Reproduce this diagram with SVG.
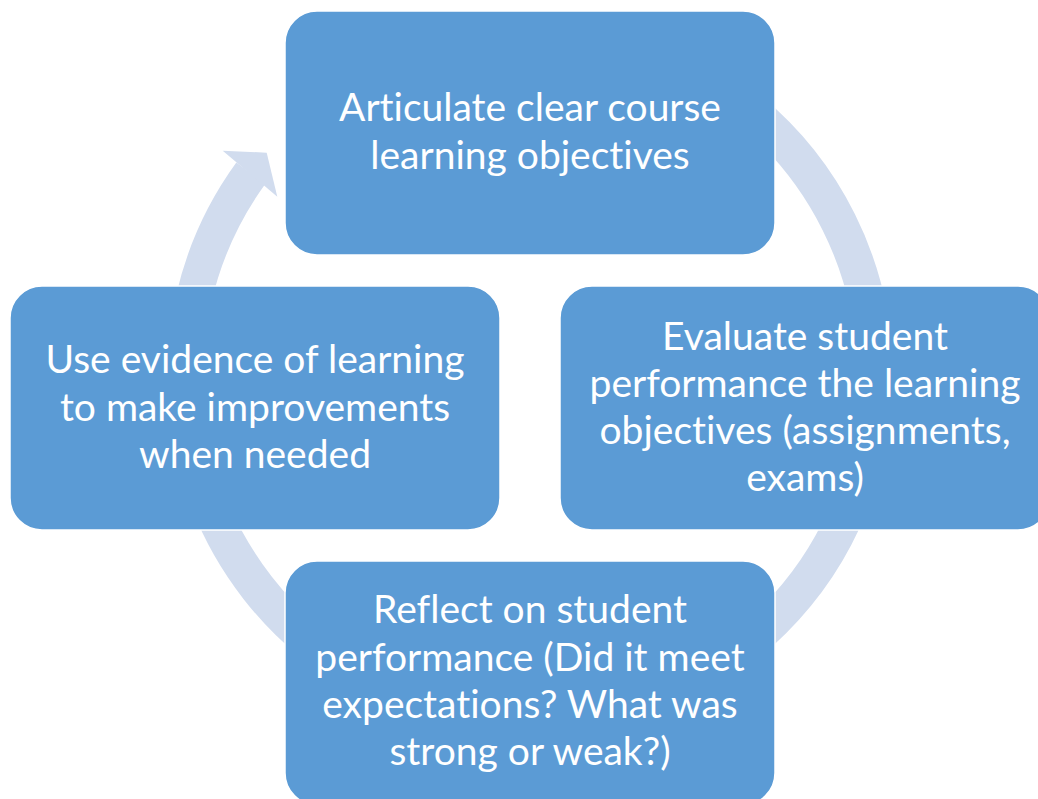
<svg xmlns="http://www.w3.org/2000/svg" width="1038" height="799" viewBox="0 0 1038 799">
  <style>
    .box { fill: #5B9BD5; stroke: #FFFFFF; stroke-width: 1.5; }
    .lbl { font-family: Lato, "Liberation Sans", sans-serif; font-size: 39px; fill: #FFFFFF; text-anchor: middle; font-variant-ligatures: none; font-feature-settings: "liga" 0, "dlig" 0; }
    .ring { fill: none; stroke: #D1DCEE; stroke-width: 36; stroke-linecap: butt; }
    .head { fill: #D1DCEE; }
  </style>
  <rect width="1038" height="799" fill="#FFFFFF"/>
  <g id="connectors">
    <path class="ring" d="M 619.3 42.8 A 345 345 0 1 1 250.9 173.2"/>
    <polygon class="head" points="222.7,150.7 266.7,152.7 277.3,196.7"/>
  </g>
  <g id="node-top">
    <rect class="box" x="285" y="11" width="490" height="244" rx="32" ry="32"/>
    <text class="lbl" x="530" y="121">Articulate clear course</text>
    <text class="lbl" x="530" y="169">learning objectives</text>
  </g>
  <g id="node-right">
    <rect class="box" x="560" y="286" width="490" height="244" rx="32" ry="32"/>
    <text class="lbl" x="805" y="350">Evaluate student</text>
    <text class="lbl" x="805" y="397">performance the learning</text>
    <text class="lbl" x="805" y="444">objectives (assignments,</text>
    <text class="lbl" x="805" y="491">exams)</text>
  </g>
  <g id="node-bottom">
    <rect class="box" x="285" y="561" width="490" height="244" rx="32" ry="32"/>
    <text class="lbl" x="530" y="623">Reflect on student</text>
    <text class="lbl" x="530" y="671">performance (Did it meet</text>
    <text class="lbl" x="530" y="718">expectations? What was</text>
    <text class="lbl" x="530" y="765">strong or weak?)</text>
  </g>
  <g id="node-left">
    <rect class="box" x="10" y="286" width="490" height="244" rx="32" ry="32"/>
    <text class="lbl" x="255" y="373">Use evidence of learning</text>
    <text class="lbl" x="255" y="421">to make improvements</text>
    <text class="lbl" x="255" y="468">when needed</text>
  </g>
</svg>
